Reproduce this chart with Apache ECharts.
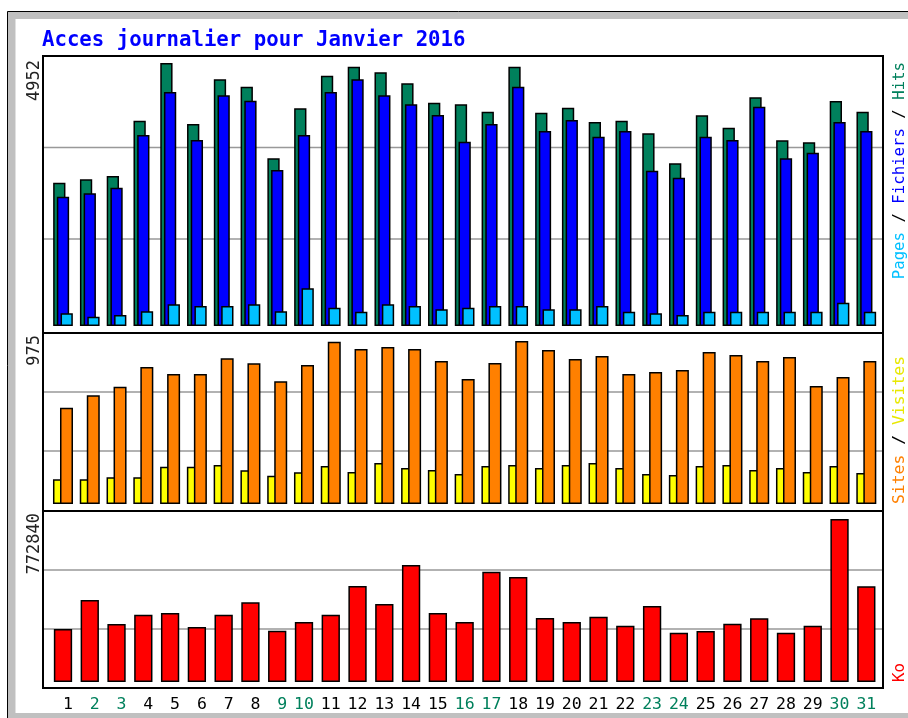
<!DOCTYPE html>
<html><head><meta charset="utf-8">
<script src="https://cdn.jsdelivr.net/npm/echarts@6/dist/echarts.min.js"></script>
<style>html,body{margin:0;padding:0;background:#fff}#c{width:908px;height:718px}</style>
</head><body><div id="c"></div>
<script>
// ---- data ----
const days = ['1','2','3','4','5','6','7','8','9','10','11','12','13','14','15','16','17','18','19','20','21','22','23','24','25','26','27','28','29','30','31'];
const weekendDays = ['2','3','9','10','16','17','23','24','30','31'];
const hits   = [2698,2762,2824,3866,4952,3803,4645,4506,3158,4099,4713,4883,4776,4569,4205,4174,4035,4883,4016,4111,3841,3866,3628,3063,3967,3734,4306,3496,3459,4237,4035];
const files  = [2435,2498,2604,3596,4406,3502,4344,4242,2937,3596,4406,4645,4344,4174,3973,3470,3803,4506,3672,3879,3564,3672,2924,2792,3564,3502,4129,3158,3263,3841,3672];
const pages  = [239,175,207,277,409,377,377,409,277,710,345,269,409,377,314,345,377,377,314,314,377,269,239,207,269,269,269,269,269,439,269];
const visits = [148,148,160,160,223,223,233,202,169,190,227,191,245,215,203,179,227,233,215,233,245,215,179,173,227,233,203,215,191,227,185];
const sites  = [576,650,702,820,778,778,872,842,734,832,970,927,939,927,855,748,843,975,921,867,885,778,790,802,909,891,855,879,706,760,855];
const kbytes = [251288,388786,274995,319090,327150,260770,319090,377880,243230,284478,319090,455165,369820,554730,327150,284478,522960,497840,303440,284478,309610,266935,360340,233745,241805,276420,302020,233745,266935,772840,453740];
const axisMaxLabels = ['4952','975','772840'];
const titleText = 'Acces journalier pour Janvier 2016';

// ---- layout ----
const MONO = 'DejaVu Sans Mono';
const FRAME_L = 43, FRAME_R = 883;
const panels = [
  {top:56,  bottom:333, zeroY:326, maxY:63,  grids:[147.5,239]},
  {top:333, bottom:511, zeroY:504, maxY:341, grids:[392,451]},
  {top:511, bottom:688, zeroY:682, maxY:519, grids:[570,629]}
];
const GRID_LEFT = 49.6, GRID_RIGHT = 28.3;

const grids = panels.map(p => ({left:GRID_LEFT, right:GRID_RIGHT, top:p.maxY, height:p.zeroY - p.maxY}));
const xAxes = panels.map((p,i) => ({
  type:'category', data:days, gridIndex:i,
  axisLine:{show:false}, axisTick:{show:false}, splitLine:{show:false},
  axisLabel: i === 2 ? {
    show:true, interval:0, margin:14,
    formatter: v => {
      const t = v.length < 2 ? '\u00a0' + v : v;
      return weekendDays.includes(v) ? '{w|' + t + '}' : '{d|' + t + '}';
    },
    rich:{
      d:{color:'#000', fontFamily:MONO, fontSize:16.5},
      w:{color:'#00805c', fontFamily:MONO, fontSize:16.5}
    }
  } : {show:false}
}));
const yAxes = panels.map((p,i) => ({
  type:'value', gridIndex:i, min:0, max:Number(axisMaxLabels[i]), show:false,
  splitLine:{show:false}
}));
const border = {borderColor:'#000', borderWidth:1.5};
function bar(name, data, idx, color, width, gap){
  return {name, type:'bar', data, xAxisIndex:idx, yAxisIndex:idx, barWidth:width, barGap:gap,
    itemStyle:Object.assign({color}, border), emphasis:{disabled:true}, animation:false, z:2};
}
const series = [
  bar('Hits', hits, 0, '#00805c', 12.3, '-70%'),
  bar('Fichiers', files, 0, '#0000ff', 12.3, '-70%'),
  bar('Pages', pages, 0, '#00c0ff', 12.3, '-70%'),
  bar('Visites', visits, 1, '#ffff00', 13, '-46%'),
  bar('Sites', sites, 1, '#ff8000', 13, '-46%'),
  bar('Ko', kbytes, 2, '#ff0000', 18.3, '0%')
];

const graphics = [];
// outer frame
graphics.push({type:'rect', shape:{x:7.5, y:11.5, width:960, height:760}, style:{fill:'#c0c0c0', stroke:'#000', lineWidth:1}, z:-10});
graphics.push({type:'rect', shape:{x:15.5, y:19, width:950, height:694}, style:{fill:'#fff'}, z:-9});
// grid lines and frames
panels.forEach(p => {
  p.grids.forEach(gy => graphics.push({type:'line', shape:{x1:FRAME_L, y1:gy, x2:FRAME_R, y2:gy}, style:{stroke:'#999', lineWidth:1.5}, z:1}));
  graphics.push({type:'rect', shape:{x:FRAME_L, y:p.top, width:FRAME_R-FRAME_L, height:p.bottom-p.top}, style:{fill:null, stroke:'#000', lineWidth:2}, z:3});
});
// max labels (rotated)
const maxLabelTop = [60, 335, 513];
axisMaxLabels.forEach((t,i) => graphics.push({type:'text', x:35, y:maxLabelTop[i], rotation:Math.PI/2,
  style:{text:t, fontFamily:MONO, fontSize:17, fill:'#222', align:'right', verticalAlign:'middle'}, z:5}));
// right legends
const LF = 15.7;
graphics.push({type:'text', x:900, y:62, rotation:Math.PI/2,
  style:{text:'{p|Pages}{s| / }{f|Fichiers}{s| / }{h|Hits}', align:'right', verticalAlign:'middle', fontFamily:MONO, fontSize:LF,
    rich:{p:{fill:'#00c0ff', fontFamily:MONO, fontSize:LF}, f:{fill:'#0000ff', fontFamily:MONO, fontSize:LF}, h:{fill:'#00805c', fontFamily:MONO, fontSize:LF}, s:{fill:'#000', fontFamily:MONO, fontSize:LF}}}, z:5});
graphics.push({type:'text', x:900, y:504, rotation:Math.PI/2,
  style:{text:'{o|Sites}{s| / }{y|Visites}', align:'left', verticalAlign:'middle', fontFamily:MONO, fontSize:16.4,
    rich:{o:{fill:'#ff8000', fontFamily:MONO, fontSize:16.4}, y:{fill:'#e8e800', fontFamily:MONO, fontSize:16.4}, s:{fill:'#000', fontFamily:MONO, fontSize:16.4}}}, z:5});
graphics.push({type:'text', x:900, y:682, rotation:Math.PI/2,
  style:{text:'Ko', align:'left', verticalAlign:'middle', fontFamily:MONO, fontSize:LF, fill:'#ff0000'}, z:5});

const chart = echarts.init(document.getElementById('c'), null, {renderer:'canvas'});
chart.setOption({
  animation:false,
  backgroundColor:'#fff',
  title:{text:titleText, left:42, top:30, padding:0, textStyle:{color:'#0000ff', fontFamily:MONO, fontWeight:'bold', fontSize:20.7}},
  grid:grids, xAxis:xAxes, yAxis:yAxes, series, graphic:graphics,
  tooltip:{show:false}
});
</script></body></html>
